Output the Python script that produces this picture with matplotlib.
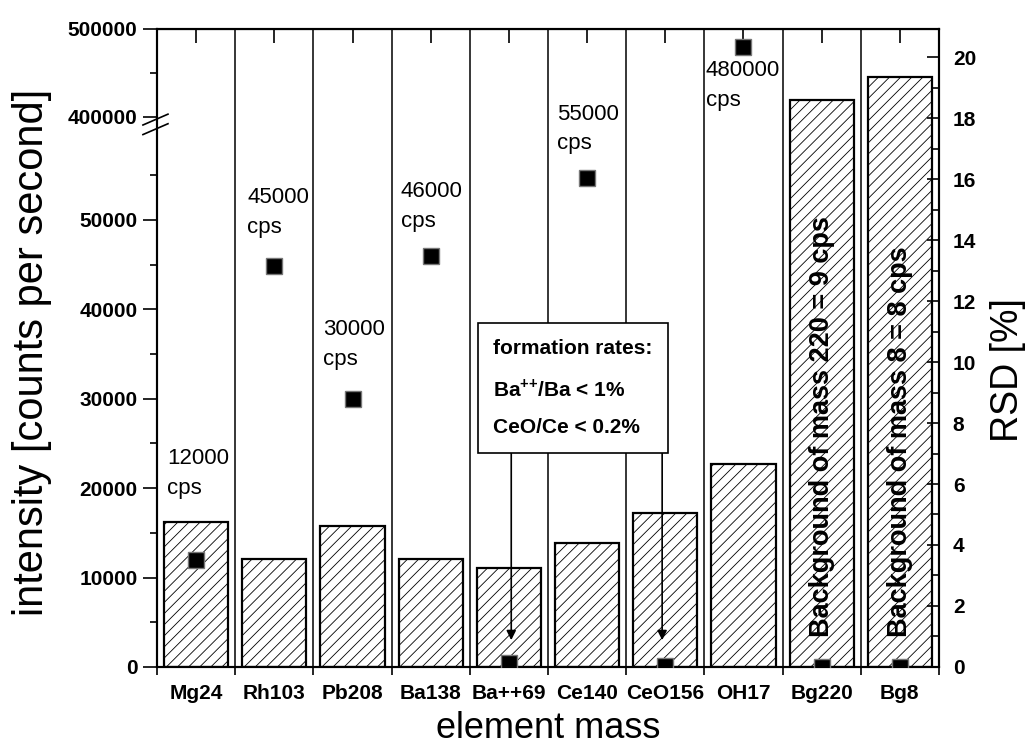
import numpy as np
import matplotlib
matplotlib.use("Agg")
import matplotlib.pyplot as plt
from matplotlib.ticker import FixedLocator, MultipleLocator, StrMethodFormatter
from matplotlib.transforms import blended_transform_factory

plt.rcParams['font.family'] = ['Liberation Sans', 'DejaVu Sans']
plt.rcParams['mathtext.fontset'] = 'custom'
plt.rcParams['mathtext.rm'] = 'Liberation Sans'
plt.rcParams['mathtext.bf'] = 'Liberation Sans:bold'
plt.rcParams['hatch.linewidth'] = 0.6

# data
categories = ['Mg24', 'Rh103', 'Pb208', 'Ba138', 'Ba++69', 'Ce140',
              'CeO156', 'OH17', 'Bg220', 'Bg8']
rsd = [4.75, 3.54, 4.62, 3.54, 3.25, 4.07, 5.05, 6.65, 18.6, 19.35]  # RSD [%]
intensity = [12000, 44900, 30000, 46000, 500, 54700, 110, 480000, 9, 8]  # cps
cps_labels = ['12000\ncps', '45000\ncps', '30000\ncps', '46000\ncps',
              None, '55000\ncps', None, '480000\ncps', None, None]
background = {8: 'Background of mass 220 = 9 cps',
              9: 'Background of mass 8 = 8 cps'}

# broken left axis: 0..~60000 linear, then jump to 400000..500000
LOW = 60500.0
HIGH = 400000.0
HIGH_EQ = 61521.0
K = 0.0984


def fwd(v):
    v = np.asarray(v, dtype=float)
    return np.where(v <= LOW, v,
                    np.where(v < HIGH, LOW + (v - LOW) / (HIGH - LOW) * (HIGH_EQ - LOW),
                             HIGH_EQ + (v - HIGH) * K))


def inv(u):
    u = np.asarray(u, dtype=float)
    return np.where(u <= LOW, u,
                    np.where(u < HIGH_EQ, LOW + (u - LOW) / (HIGH_EQ - LOW) * (HIGH - LOW),
                             HIGH + (u - HIGH_EQ) / K))


x = np.arange(len(categories))

fig = plt.figure(figsize=(10.29, 7.49), dpi=100)
ax = fig.add_axes([0.1526, 0.1095, 0.7599, 0.8518])
ax2 = ax.twinx()
ax.set_zorder(ax2.get_zorder() + 1)
ax.patch.set_visible(False)

# RSD bars on the right axis
ax2.bar(x, rsd, width=0.82, facecolor='white', edgecolor='black',
        linewidth=1.6, hatch='///')
for b in np.arange(0.5, len(categories) - 1, 1):
    ax2.axvline(b, color='black', lw=1.1, zorder=0)
ax2.set_ylim(0, 20.92)
ax2.set_yticks(np.arange(0, 21, 2))
ax2.yaxis.set_minor_locator(MultipleLocator(1))
ax2.tick_params(axis='y', which='major', direction='in', length=8.5, width=1.2,
                labelsize=15, pad=10)
ax2.tick_params(axis='y', which='minor', direction='in', length=5, width=1.2)
for lab in ax2.get_yticklabels():
    lab.set_fontweight('bold')
ax2.set_ylabel('RSD [%]', fontsize=27, va='center')
ax2.yaxis.set_label_coords(1.088, 0.466)

# intensity markers on the left axis
ax.set_yscale('function', functions=(fwd, inv))
ax.plot(x, intensity, 's', color='black', markersize=12,
        markeredgecolor='#777777', markeredgewidth=1.0, zorder=5)
ax.set_xlim(-0.5, len(categories) - 0.5)
ax.set_ylim(0, 500000)

major_left = [0, 10000, 20000, 30000, 40000, 50000, 400000, 500000]
minor_left = [5000, 15000, 25000, 35000, 45000, 55000, 450000]
ax.yaxis.set_major_locator(FixedLocator(major_left))
ax.yaxis.set_minor_locator(FixedLocator(minor_left))
ax.yaxis.set_major_formatter(StrMethodFormatter('{x:.0f}'))
ax.tick_params(axis='y', which='major', direction='out', length=10, width=1.2,
               labelsize=15, pad=4)
ax.tick_params(axis='y', which='minor', direction='out', length=5, width=1.2)
for lab in ax.get_yticklabels():
    lab.set_fontweight('bold')
ax.set_ylabel('intensity [counts per second]', fontsize=30, va='center')
ax.yaxis.set_label_coords(-0.160, 0.493)

# break marks on the left spine
for c in (0.858, 0.843):
    ax.plot([-0.018, 0.014], [c - 0.0085, c + 0.0085], color='black', lw=1.2,
            transform=ax.transAxes, clip_on=False, zorder=6)

# x axis: labels at centres, ticks at boundaries
ax.set_xticks(x)
ax.set_xticklabels(categories, fontsize=15, fontweight='bold')
ax.tick_params(axis='x', which='major', length=0, pad=12)
ax.set_xticks(np.arange(-0.5, len(categories), 1), minor=True)
ax.tick_params(axis='x', which='minor', direction='out', length=6, width=1.2)
ax.set_xlabel('element mass', fontsize=26, va='center')
ax.xaxis.set_label_coords(0.5, -0.097)

sec = ax.secondary_xaxis('top')
sec.set_xticks(x)
sec.set_xticklabels([])
sec.tick_params(direction='in', length=10, width=1.2)

for a in (ax, ax2):
    for s in a.spines.values():
        s.set_linewidth(1.5)

# cps labels next to the markers
offsets = [(-21, 44), (-19.5, 20), (-21.5, 21), (-21.5, 17), None,
           (-21.5, 17), None, (-27, -10), None, None]
for i, txt in enumerate(cps_labels):
    if txt is None:
        continue
    dx, dy = offsets[i]
    ax.annotate(txt, (x[i], intensity[i]), xytext=(dx, dy),
                textcoords='offset points', ha='left',
                va='top' if dy < 0 else 'bottom', fontsize=16,
                linespacing=1.55, zorder=6)

# formation rates box with arrows
box_text = 'formation rates:\nBa$^{\\mathbf{{+}{+}}}$/Ba < 1%\nCeO/Ce < 0.2%'
ax.text(3.80, 31200, box_text, fontsize=15, fontweight='bold',
        ha='left', va='center', linespacing=2.15, zorder=7,
        bbox=dict(boxstyle='square,pad=0.75', facecolor='white',
                  edgecolor='black', linewidth=1.2))
for xi in (4.03, 5.96):
    ax.annotate('', xy=(xi, 3000), xytext=(xi, 23900),
                arrowprops=dict(arrowstyle='-|>', color='black', lw=1.2,
                                mutation_scale=14, shrinkA=0, shrinkB=0),
                zorder=6)

# rotated background texts inside the last bars
trans = blended_transform_factory(ax.transData, ax.transAxes)
for i, txt in background.items():
    ax.text(x[i], 0.047, txt, rotation=90, ha='center', va='bottom',
            fontsize=19.5, fontweight='bold', transform=trans, zorder=6)

fig.savefig('out.png', dpi=100)
